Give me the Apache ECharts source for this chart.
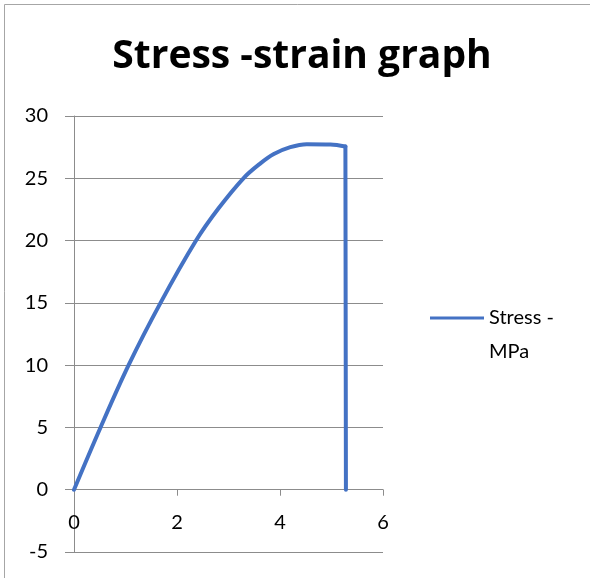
<!DOCTYPE html>
<html>
<head>
<meta charset="utf-8">
<script src="https://cdn.jsdelivr.net/npm/echarts@6/dist/echarts.min.js"></script>
<style>
html,body{margin:0;padding:0;background:#fff;}
#chart{width:590px;height:578px;}
</style>
</head>
<body>
<div id="chart"></div>
<script>
const chartTitle = 'Stress -strain graph';
const seriesName = 'Stress -\nMPa';
// loading curve (strain, stress MPa)
const strain = [0, 0.515, 1.06, 1.68, 2.37, 2.80, 3.29, 3.62, 3.88, 4.20, 4.52, 4.98, 5.27];
const stress = [0, 5, 10, 15, 20, 22.55, 25, 26.2, 26.95, 27.5, 27.74, 27.72, 27.55];
// fracture drop
const dropStrain = [5.27, 5.28];
const dropStress = [27.55, 0];
const xTicks = {min: 0, max: 6, interval: 2};
const yTicks = {min: -5, max: 30, interval: 5};

const curve = strain.map((x, i) => [x, stress[i]]);
const drop = dropStrain.map((x, i) => [x, dropStress[i]]);
const font = 'Lato, "Open Sans", sans-serif';
const titleFont = '"Open Sans", Lato, sans-serif';
const gray = '#8c8c8c';
const blue = '#4472C4';

const gridTop = 116, gridHeight = 436;
// place the x axis line at y = 0
const zeroOffset = -gridHeight * (0 - yTicks.min) / (yTicks.max - yTicks.min);

const chart = echarts.init(document.getElementById('chart'), null, {renderer: 'canvas'});
chart.setOption({
  backgroundColor: '#fff',
  animation: false,
  title: {
    text: chartTitle,
    left: 297,
    textAlign: 'center',
    top: 32,
    textStyle: {fontFamily: titleFont, fontWeight: 'bold', fontSize: 39, color: '#000'}
  },
  legend: {
    left: 425,
    top: 262,
    itemWidth: 54,
    itemHeight: 14,
    icon: 'path://M0,0 L54,0 L54,3 L0,3 Z',
    data: [{name: seriesName, itemStyle: {color: blue}}],
    formatter: n => ' \n' + n,
    textStyle: {fontFamily: font, fontSize: 20, color: '#000', lineHeight: 34}
  },
  graphic: [{
    type: 'rect',
    shape: {x: 4.5, y: 4.5, width: 800, height: 800},
    style: {fill: 'none', stroke: '#a6a6a6', lineWidth: 1},
    silent: true
  }],
  grid: {left: 74, top: gridTop, width: 309, height: gridHeight, outerBoundsMode: 'none', containLabel: false},
  xAxis: {
    type: 'value',
    position: 'bottom',
    offset: zeroOffset,
    min: xTicks.min, max: xTicks.max, interval: xTicks.interval,
    axisLine: {show: true, onZero: false, lineStyle: {color: gray, width: 1}},
    axisTick: {show: true, length: 6, lineStyle: {color: gray}},
    splitLine: {show: false},
    axisLabel: {margin: 23, fontFamily: font, fontSize: 20, color: '#000'}
  },
  yAxis: {
    type: 'value',
    min: yTicks.min, max: yTicks.max, interval: yTicks.interval,
    axisLine: {show: true, onZero: false, lineStyle: {color: gray, width: 1}},
    axisTick: {show: true, length: 9, lineStyle: {color: gray}},
    splitLine: {show: true, lineStyle: {color: gray, width: 1}},
    axisLabel: {margin: 26, fontFamily: font, fontSize: 20, color: '#000'}
  },
  series: [{
    name: seriesName,
    type: 'line',
    data: curve,
    symbol: 'none',
    smooth: 0.35,
    lineStyle: {color: blue, width: 4, join: 'round', cap: 'round'},
    itemStyle: {color: blue}
  }, {
    name: seriesName,
    type: 'line',
    data: drop,
    symbol: 'none',
    lineStyle: {color: blue, width: 4, join: 'round', cap: 'round'},
    itemStyle: {color: blue}
  }]
});
</script>
</body>
</html>
